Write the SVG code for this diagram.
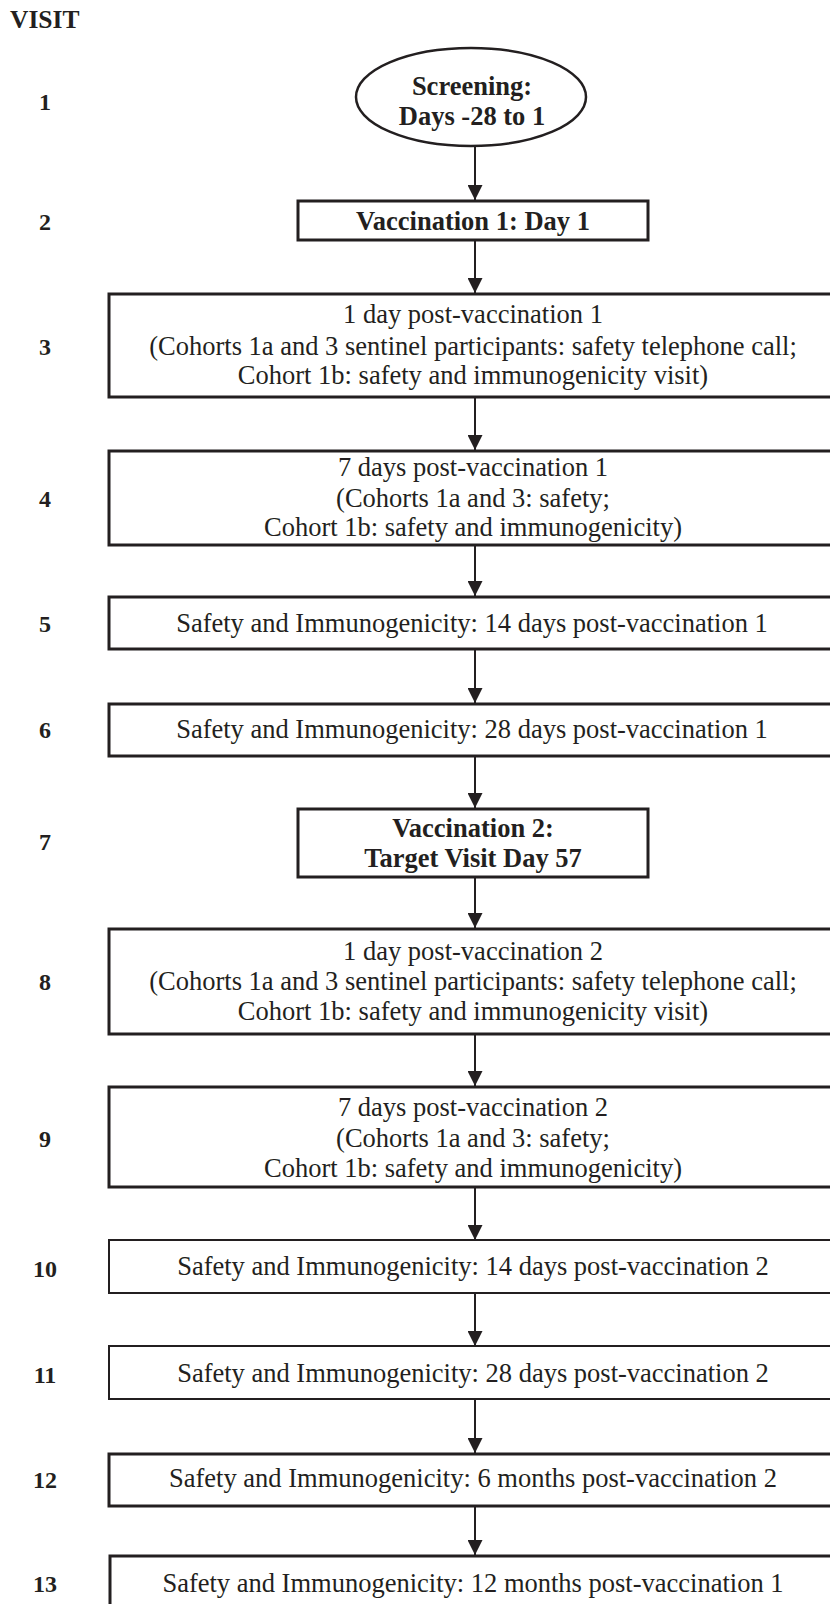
<svg xmlns="http://www.w3.org/2000/svg" width="830" height="1604" viewBox="0 0 830 1604">
  <style>
    .box { fill: #ffffff; stroke: #231f20; stroke-width: 3; }
    .box.thin { stroke-width: 2; }
    .txt { font-family: "Liberation Serif", "Times New Roman", serif; font-size: 26.5px; fill: #231f20; text-anchor: middle; }
    .bold { font-weight: bold; }
    .lbl { font-family: "Liberation Serif", "Times New Roman", serif; font-size: 24px; font-weight: bold; fill: #231f20; text-anchor: middle; }
    .link { stroke: #231f20; stroke-width: 2; fill: none; marker-end: url(#arrow); }
  </style>
  <defs>
    <marker id="arrow" viewBox="0 0 15 15" refX="15" refY="7.5" markerWidth="15" markerHeight="15" markerUnits="userSpaceOnUse" orient="auto">
      <path d="M0,0 L15,7.5 L0,15 z" fill="#231f20"/>
    </marker>
  </defs>
  <rect width="830" height="1604" fill="#ffffff"/>

  <!-- visit column -->
  <g id="visit-labels">
    <text class="lbl" x="10" y="28" style="text-anchor:start;font-size:25.5px">VISIT</text>
    <text class="lbl" x="45" y="110">1</text>
    <text class="lbl" x="45" y="230">2</text>
    <text class="lbl" x="45" y="355">3</text>
    <text class="lbl" x="45" y="507">4</text>
    <text class="lbl" x="45" y="632">5</text>
    <text class="lbl" x="45" y="738">6</text>
    <text class="lbl" x="45" y="850">7</text>
    <text class="lbl" x="45" y="990">8</text>
    <text class="lbl" x="45" y="1147">9</text>
    <text class="lbl" x="45" y="1277">10</text>
    <text class="lbl" x="45" y="1383">11</text>
    <text class="lbl" x="45" y="1488">12</text>
    <text class="lbl" x="45" y="1592">13</text>
  </g>

  <!-- connectors -->
  <g id="connectors">
    <line class="link" x1="475" y1="146" x2="475" y2="200"/>
    <line class="link" x1="475" y1="240" x2="475" y2="293"/>
    <line class="link" x1="475" y1="397" x2="475" y2="450"/>
    <line class="link" x1="475" y1="545" x2="475" y2="596"/>
    <line class="link" x1="475" y1="649" x2="475" y2="703"/>
    <line class="link" x1="475" y1="756" x2="475" y2="808"/>
    <line class="link" x1="475" y1="877" x2="475" y2="928"/>
    <line class="link" x1="475" y1="1034" x2="475" y2="1086"/>
    <line class="link" x1="475" y1="1187" x2="475" y2="1240"/>
    <line class="link" x1="475" y1="1293" x2="475" y2="1346"/>
    <line class="link" x1="475" y1="1399" x2="475" y2="1453"/>
    <line class="link" x1="475" y1="1506" x2="475" y2="1555"/>
  </g>

  <g id="screening">
    <ellipse class="box" style="stroke-width:2.5" cx="471" cy="97" rx="115" ry="49"/>
    <text class="txt bold" x="472" y="95">Screening:</text>
    <text class="txt bold" x="472" y="125">Days -28 to 1</text>
  </g>

  <g id="vaccination-1">
    <rect class="box" x="298" y="201" width="350" height="39"/>
    <text class="txt bold" x="473" y="230">Vaccination 1: Day 1</text>
  </g>

  <g id="visit-3">
    <rect class="box" x="109" y="294" width="730" height="103"/>
    <text class="txt" x="473" y="323">1 day post-vaccination 1</text>
    <text class="txt" x="473" y="355">(Cohorts 1a and 3 sentinel participants: safety telephone call;</text>
    <text class="txt" x="473" y="384">Cohort 1b: safety and immunogenicity visit)</text>
  </g>

  <g id="visit-4">
    <rect class="box" x="109" y="451" width="730" height="94"/>
    <text class="txt" x="473" y="476">7 days post-vaccination 1</text>
    <text class="txt" x="473" y="507">(Cohorts 1a and 3: safety;</text>
    <text class="txt" x="473" y="536">Cohort 1b: safety and immunogenicity)</text>
  </g>

  <g id="visit-5">
    <rect class="box" x="109" y="597" width="730" height="52"/>
    <text class="txt" x="472" y="632">Safety and Immunogenicity: 14 days post-vaccination 1</text>
  </g>

  <g id="visit-6">
    <rect class="box" x="109" y="704" width="730" height="52"/>
    <text class="txt" x="472" y="738">Safety and Immunogenicity: 28 days post-vaccination 1</text>
  </g>

  <g id="vaccination-2">
    <rect class="box" x="298" y="809" width="350" height="68"/>
    <text class="txt bold" x="473" y="837">Vaccination 2:</text>
    <text class="txt bold" x="473" y="867">Target Visit Day 57</text>
  </g>

  <g id="visit-8">
    <rect class="box" x="109" y="929" width="730" height="105"/>
    <text class="txt" x="473" y="960">1 day post-vaccination 2</text>
    <text class="txt" x="473" y="990">(Cohorts 1a and 3 sentinel participants: safety telephone call;</text>
    <text class="txt" x="473" y="1020">Cohort 1b: safety and immunogenicity visit)</text>
  </g>

  <g id="visit-9">
    <rect class="box" x="109" y="1087" width="730" height="100"/>
    <text class="txt" x="473" y="1116">7 days post-vaccination 2</text>
    <text class="txt" x="473" y="1147">(Cohorts 1a and 3: safety;</text>
    <text class="txt" x="473" y="1177">Cohort 1b: safety and immunogenicity)</text>
  </g>

  <g id="visit-10">
    <rect class="box thin" x="109" y="1240" width="730" height="53"/>
    <text class="txt" x="473" y="1275">Safety and Immunogenicity: 14 days post-vaccination 2</text>
  </g>

  <g id="visit-11">
    <rect class="box thin" x="109" y="1346" width="730" height="53"/>
    <text class="txt" x="473" y="1382">Safety and Immunogenicity: 28 days post-vaccination 2</text>
  </g>

  <g id="visit-12">
    <rect class="box" x="109" y="1454" width="730" height="52"/>
    <text class="txt" x="473" y="1487">Safety and Immunogenicity: 6 months post-vaccination 2</text>
  </g>

  <g id="visit-13">
    <rect class="box" x="110" y="1556" width="730" height="60"/>
    <text class="txt" x="473" y="1592">Safety and Immunogenicity: 12 months post-vaccination 1</text>
  </g>
</svg>
